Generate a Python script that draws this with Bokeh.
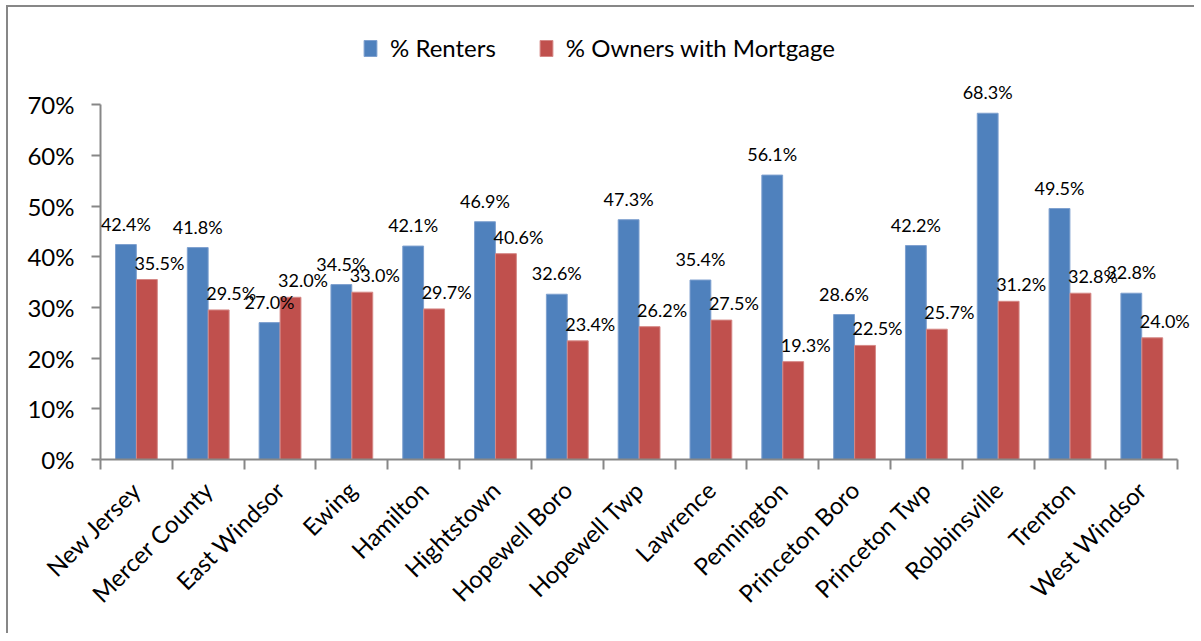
from math import pi
from bokeh.plotting import figure
from bokeh.core.properties import value
from bokeh.models import (ColumnDataSource, Range1d, LinearAxis,
                          FixedTicker, PrintfTickFormatter, LabelSet, Legend, LegendItem)
from bokeh.transform import dodge
from bokeh.embed import file_html
from bokeh.resources import INLINE

places = ["New Jersey", "Mercer County", "East Windsor", "Ewing", "Hamilton", "Hightstown",
          "Hopewell Boro", "Hopewell Twp", "Lawrence", "Pennington", "Princeton Boro",
          "Princeton Twp", "Robbinsville", "Trenton", "West Windsor"]
renters = [42.4, 41.8, 27.0, 34.5, 42.1, 46.9, 32.6, 47.3, 35.4, 56.1, 28.6, 42.2, 68.3, 49.5, 32.8]
owners = [35.5, 29.5, 32.0, 33.0, 29.7, 40.6, 23.4, 26.2, 27.5, 19.3, 22.5, 25.7, 31.2, 32.8, 24.0]
y_ticks = [0, 10, 20, 30, 40, 50, 60, 70]
series_names = ["% Renters", "% Owners with Mortgage"]

FONT = "Lato"
BLUE = "#4F81BD"
RED = "#C0504D"
AXIS = "#878787"

n = len(places)
centers = [i + 0.5 for i in range(n)]

src = ColumnDataSource(dict(
    xc=centers, renters=renters, owners=owners,
    renters_lbl=[f"{v:.1f}%" for v in renters],
    owners_lbl=[f"{v:.1f}%" for v in owners],
))

# frame extends above 70% and right of the last category so labels and legend
# are not clipped; the axis lines themselves are bounded to the data span
p = figure(width=1188, height=628,
           x_range=Range1d(0, n + 0.22), y_range=Range1d(0, 86),
           x_axis_location=None, y_axis_location="left",
           output_backend="svg", toolbar_location=None,
           min_border_left=92, min_border_top=16, min_border_right=3, min_border_bottom=176)
p.margin = (5, 0, 0, 6)
p.styles = {"border-top": "2px solid #878787", "border-left": "2px solid #878787"}

p.xgrid.visible = False
p.ygrid.visible = False
p.outline_line_color = None

yax = p.yaxis[0]
yax.ticker = FixedTicker(ticks=y_ticks)
yax.bounds = (0, y_ticks[-1])
yax.formatter = PrintfTickFormatter(format="%d%%")
yax.major_tick_out = 9
yax.major_tick_in = 0
yax.minor_tick_line_color = None
yax.axis_line_color = AXIS
yax.axis_line_width = 2
yax.major_tick_line_color = AXIS
yax.major_tick_line_width = 2
yax.major_label_text_font = FONT
yax.major_label_text_font_size = "24px"
yax.major_label_text_color = "black"
yax.major_label_standoff = 17

edge_axis = LinearAxis(ticker=FixedTicker(ticks=list(range(n + 1))), bounds=(0, n),
                       major_label_overrides={i: "" for i in range(n + 1)},
                       major_label_standoff=0,
                       major_tick_out=10, major_tick_in=0, minor_tick_line_color=None,
                       axis_line_color=AXIS, axis_line_width=2,
                       major_tick_line_color=AXIS, major_tick_line_width=2)
cat_axis = LinearAxis(ticker=FixedTicker(ticks=centers),
                      major_label_overrides={c: name for c, name in zip(centers, places)},
                      axis_line_color=None, major_tick_line_color=None,
                      minor_tick_line_color=None, major_tick_out=0,
                      major_label_orientation=pi / 4,
                      major_label_text_font=FONT, major_label_text_font_size="24px",
                      major_label_text_color="black", major_label_standoff=16)
p.add_layout(edge_axis, "below")
p.add_layout(cat_axis, "below")

r1 = p.vbar(x=dodge("xc", -0.146), top="renters", width=0.29,
            source=src, fill_color=BLUE, line_color="#7EA0CF", line_width=1)
r2 = p.vbar(x=dodge("xc", 0.146), top="owners", width=0.29,
            source=src, fill_color=RED, line_color="#D58886", line_width=1)

lab1 = LabelSet(x=dodge("xc", -0.146), y="renters", text="renters_lbl",
                source=src, text_align="center", text_baseline="middle", y_offset=21,
                text_font=value(FONT), text_font_size=value("18px"), text_color="black")
lab2 = LabelSet(x="xc", y="owners", text="owners_lbl",
                source=src, text_align="left", text_baseline="middle", y_offset=17, x_offset=-2,
                text_font=value(FONT), text_font_size=value("18px"), text_color="black")
p.add_layout(lab1)
p.add_layout(lab2)

legend = Legend(items=[LegendItem(label=series_names[0], renderers=[r1]),
                       LegendItem(label=series_names[1], renderers=[r2])],
                orientation="horizontal", location=(262, 397),
                glyph_width=16, glyph_height=20, label_standoff=12, spacing=42,
                padding=0, margin=0, border_line_color=None, background_fill_alpha=0,
                label_text_font=FONT, label_text_font_size="24px", label_text_color="black")
p.add_layout(legend)

open("out.html", "w").write(file_html(p, INLINE))
